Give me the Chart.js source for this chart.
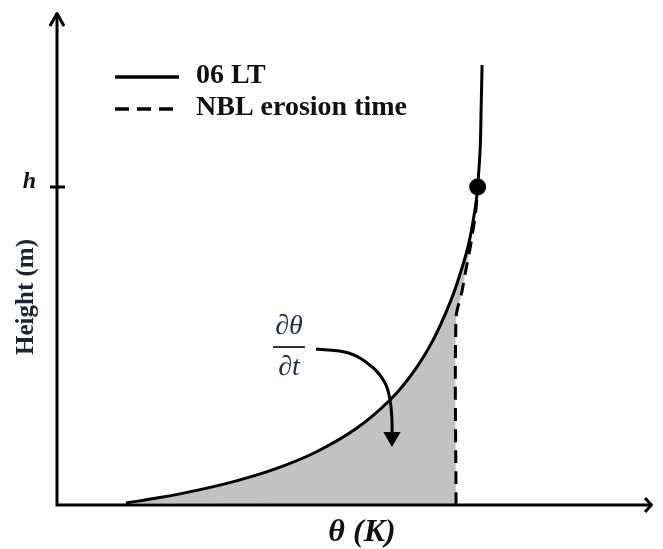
<!DOCTYPE html>
<html>
<head>
<meta charset="utf-8">
<script src="https://cdn.jsdelivr.net/npm/chart.js@4.4.1/dist/chart.umd.min.js"></script>
<style>
  html, body { margin: 0; padding: 0; background: #ffffff; }
  #wrap { width: 663px; height: 549px; position: relative; }
</style>
</head>
<body>
<div id="wrap"><canvas id="c" width="663" height="549"></canvas></div>
<script>
// ---- Data (schematic units: theta 0-100, height 0-100) ----
const seriesLabels = ['06 LT', 'NBL erosion time'];
const hHeight = 64.5;            // boundary-layer top h
const hTheta = 70.58;            // theta at h

// 06 LT profile, surface up to h
const lt06LowerTheta  = [11.57, 17.02, 23.64, 30.25, 36.86, 43.47, 50.08, 55.87, 60.00, 63.31, 66.12, 67.77, 69.09, 70.25, 70.58];
const lt06LowerHeight = [0.41, 1.46, 3.02, 4.95, 7.42, 10.75, 15.40, 21.30, 27.32, 33.96, 41.58, 47.42, 53.06, 60.85, 64.50];
// 06 LT profile above h
const lt06UpperTheta  = [70.58, 70.99, 71.16, 71.32];
const lt06UpperHeight = [64.50, 72.01, 80.12, 89.25];
// NBL erosion time profile
const nblTheta  = [66.95, 66.95, 67.93, 68.60, 69.26, 69.75, 70.25, 70.58];
const nblHeight = [0.00, 37.93, 43.20, 47.67, 51.72, 55.38, 59.43, 64.50];
// d(theta)/dt arrow path
const arrowTheta  = [43.47, 48.93, 52.89, 55.04, 55.87, 56.20, 56.20];
const arrowHeight = [31.64, 30.83, 27.99, 24.75, 21.30, 17.24, 13.79];

const toPts = (xs, ys) => xs.map((v, i) => ({ x: v, y: ys[i] }));

const serif = "'Liberation Serif', 'Times New Roman', serif";

const decor = {
  id: 'decor',
  afterDatasetsDraw(chart) {
    const { ctx, scales: { x, y } } = chart;
    const X = v => x.getPixelForValue(v), Y = v => y.getPixelForValue(v);
    const x0 = X(0), y0 = Y(0), xe = X(100), ye = Y(100);
    ctx.save();
    ctx.strokeStyle = '#000';
    ctx.lineWidth = 3;
    ctx.lineCap = 'butt';
    ctx.lineJoin = 'round';
    // axes
    ctx.beginPath();
    ctx.moveTo(x0, y0 + 1.5); ctx.lineTo(x0, ye + 1);
    ctx.moveTo(x0 - 1.5, y0); ctx.lineTo(xe - 1, y0);
    ctx.stroke();
    // arrowheads
    ctx.beginPath();
    ctx.moveTo(x0 - 7, ye + 14); ctx.lineTo(x0, ye + 1.5); ctx.lineTo(x0 + 7, ye + 14);
    ctx.moveTo(xe - 8, y0 - 7); ctx.lineTo(xe - 1.5, y0); ctx.lineTo(xe - 8, y0 + 7);
    ctx.stroke();
    // h tick
    const yh = Y(hHeight);
    ctx.beginPath(); ctx.moveTo(x0 - 7, yh); ctx.lineTo(x0 + 8, yh); ctx.stroke();

    // labels
    ctx.fillStyle = '#111';
    ctx.textBaseline = 'alphabetic';
    ctx.font = "bold italic 24px " + serif;
    ctx.textAlign = 'right';
    ctx.fillText('h', x0 - 21, yh + 1);

    ctx.font = "bold italic 32px " + serif;
    ctx.textAlign = 'center';
    ctx.fillText('θ (K)', 362, 541);

    ctx.save();
    ctx.translate(33, 297);
    ctx.rotate(-Math.PI / 2);
    ctx.font = "bold 25px " + serif;
    ctx.fillStyle = '#1c2333';
    ctx.textAlign = 'center';
    ctx.fillText('Height (m)', 0, 0);
    ctx.restore();

    // legend
    const ds = chart.data.datasets;
    const rows = [{ ds: ds[0], y: 77, ty: 83 }, { ds: ds[1], y: 109, ty: 115 }];
    rows.forEach(r => {
      ctx.save();
      ctx.lineWidth = 3.5;
      ctx.setLineDash(r.ds.borderDash ? [14, 8] : []);
      ctx.beginPath(); ctx.moveTo(115, r.y); ctx.lineTo(179, r.y); ctx.stroke();
      ctx.restore();
      ctx.font = "bold 28px " + serif;
      ctx.textAlign = 'left';
      ctx.fillStyle = '#111';
      ctx.fillText(r.ds.label, 196, r.ty);
    });

    // d(theta)/dt fraction
    ctx.fillStyle = '#1f2b46';
    ctx.font = "italic 28px " + serif;
    ctx.textAlign = 'center';
    ctx.fillText('∂θ', 289, 334);
    ctx.fillText('∂t', 289, 375);
    ctx.strokeStyle = '#333';
    ctx.lineWidth = 2;
    ctx.beginPath(); ctx.moveTo(273, 347); ctx.lineTo(305, 347); ctx.stroke();
    ctx.restore();
  }
};

const lastArrow = arrowTheta.length - 1;

new Chart(document.getElementById('c'), {
  type: 'line',
  data: {
    datasets: [
      {
        label: seriesLabels[0],
        data: toPts(lt06LowerTheta, lt06LowerHeight),
        indexAxis: 'y',
        borderColor: '#000', borderWidth: 3,
        tension: 0.4,
        pointRadius: 0,
        fill: { target: 1, above: '#c2c2c2', below: '#c2c2c2' },
        backgroundColor: '#c2c2c2'
      },
      {
        label: seriesLabels[1],
        data: toPts(nblTheta, nblHeight),
        indexAxis: 'y',
        borderColor: '#000', borderWidth: 3,
        borderDash: [13, 8],
        tension: 0.3,
        pointRadius: 0,
        fill: false
      },
      {
        label: seriesLabels[0] + ' (above h)',
        data: toPts(lt06UpperTheta, lt06UpperHeight),
        indexAxis: 'y',
        borderColor: '#000', borderWidth: 3,
        tension: 0.4,
        pointRadius: 0,
        fill: false
      },
      {
        label: 'h',
        data: [{ x: hTheta, y: hHeight }],
        showLine: false,
        pointRadius: 8.5,
        pointBackgroundColor: '#000',
        pointBorderColor: '#000',
        pointBorderWidth: 0,
        fill: false
      },
      {
        label: 'dtheta/dt',
        data: toPts(arrowTheta, arrowHeight),
        borderColor: '#000', borderWidth: 3,
        tension: 0.4,
        fill: false,
        pointStyle: 'triangle',
        pointRadius: c => (c.dataIndex === lastArrow ? 10 : 0),
        pointRotation: 180,
        pointBackgroundColor: '#000',
        pointBorderColor: '#000',
        pointBorderWidth: 0
      }
    ]
  },
  options: {
    responsive: false,
    animation: false,
    events: [],
    layout: { padding: { left: 57, right: 1, top: 12, bottom: 44 } },
    scales: {
      x: { type: 'linear', min: 0, max: 100, display: false },
      y: { type: 'linear', min: 0, max: 100, display: false }
    },
    plugins: {
      legend: { display: false },
      tooltip: { enabled: false },
      filler: { drawTime: 'beforeDatasetsDraw' }
    }
  },
  plugins: [decor]
});
</script>
</body>
</html>
